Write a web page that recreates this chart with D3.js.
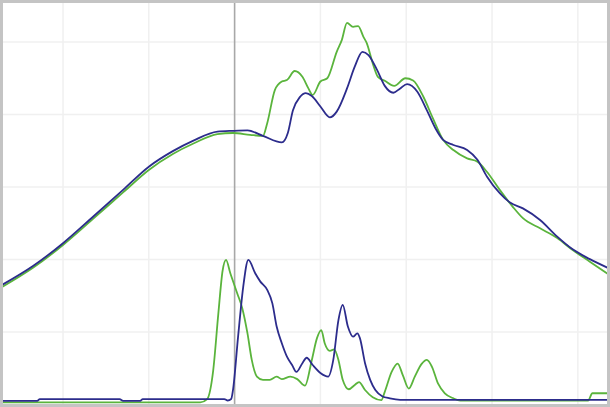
<!DOCTYPE html>
<html><head><meta charset="utf-8">
<script src="https://cdn.jsdelivr.net/npm/d3@7"></script>
<style>body{margin:0;background:#fff}svg{display:block}</style>
</head><body><svg id="c" width="610" height="407"></svg>
<script>
// x values (time units) and y values for each series
const blueUpperX = [2.9,6.5,10.0,13.5,17.0,20.0,22.8,25.2,28.0,29.8,31.5,33.3,35.5,36.2,36.8,37.6,38.3,39.0,40.0,41.1,41.9,43.1,44.0,44.9,45.6,46.6,47.5,48.5,49.3,50.1,51.3,52.4,53.4,54.3,55.5,57.1,58.3,59.4,60.9,62.1,63.6,65.6,67.6,69.4,71.4,73.5];
const blueUpperY = [33.0,38.2,44.5,51.8,59.2,65.6,69.9,72.8,75.3,75.5,75.6,74.1,72.3,74.9,81.2,84.8,85.9,85.1,82.2,79.2,80.8,87.2,93.2,97.3,96.4,92.3,87.9,86.0,87.2,88.4,86.3,81.2,76.2,73.0,71.6,70.2,67.5,62.9,58.3,55.7,54.1,50.9,46.3,42.8,40.1,37.7];
const greenUpperX = [2.9,6.5,10.0,13.5,17.0,20.0,22.8,25.2,28.0,29.8,31.8,33.3,33.8,34.7,35.5,36.1,37.0,37.9,38.6,39.1,40.0,40.8,41.9,42.5,43.1,43.8,44.4,45.0,45.4,46.1,46.7,47.5,48.6,49.9,50.8,52.0,53.1,54.3,55.5,57.1,58.3,59.4,60.9,62.4,63.6,65.6,67.6,69.4,71.4,73.5];
const greenUpperY = [32.4,37.7,44.0,51.2,58.5,64.7,69.1,72.0,74.6,74.9,74.4,74.1,77.6,86.8,89.1,89.5,92.0,90.4,87.2,85.4,89.1,90.0,97.3,100.6,105.3,104.2,104.4,101.5,99.7,94.1,90.4,89.3,87.9,90.0,89.4,84.9,79.0,73.0,70.2,67.9,67.0,64.2,59.2,54.6,51.4,48.6,45.9,42.6,39.4,36.0];
const blueLowerX = [2.7,7.0,7.3,16.6,17.0,19.0,19.3,28.8,29.2,29.6,29.8,30.4,31.0,31.6,32.4,33.0,33.8,34.4,34.9,35.5,36.1,36.7,37.2,37.9,38.4,39.1,40.0,40.9,41.5,42.1,42.6,43.2,43.8,44.3,44.6,45.2,45.8,46.4,47.2,48.1,49.3,73.5];
const blueLowerY = [1.0,1.0,1.5,1.5,1.0,1.0,1.5,1.5,1.1,1.5,3.8,18.6,32.4,39.9,36.2,33.9,31.6,27.9,21.5,16.9,13.2,10.9,9.0,11.4,12.9,10.9,8.7,7.7,12.3,23.3,27.5,21.5,18.7,19.6,18.3,11.4,6.8,4.0,2.3,1.7,1.3,1.3];
const greenLowerX = [2.7,26.0,26.8,27.5,28.1,28.6,29.0,29.5,30.3,30.9,31.5,32.0,32.6,33.3,34.1,34.9,35.5,36.5,37.3,38.2,39.0,39.6,40.1,40.5,41.1,41.6,42.1,42.6,43.3,44.0,44.5,45.2,46.1,47.1,47.5,48.3,49.0,49.6,50.3,51.0,51.8,52.4,53.0,53.7,54.5,55.5,56.3,71.2,71.7,73.5];
const greenLowerY = [0.6,0.6,1.5,9.3,25.0,36.9,39.9,36.2,30.7,26.5,19.6,12.3,7.7,6.8,6.8,7.7,7.0,7.7,7.0,5.2,12.3,18.3,20.5,16.9,14.8,15.2,12.3,6.8,4.2,5.4,6.2,4.0,2.0,1.2,3.5,9.0,11.3,8.1,4.4,7.7,11.2,12.3,10.4,5.8,3.1,1.7,1.1,1.1,3.1,3.1];
const xGrid = [10,20,40,50,60,70];
const yGrid = [20,40,60,80,100];
const markerX = 30;

const W = 610, H = 407;
const svg = d3.select("#c");
const x = d3.scaleLinear().domain([2.657, 73.75]).range([0, W]);
const y = d3.scaleLinear().domain([-0.69, 111.59]).range([H, 0]);

svg.append("rect").attr("width", W).attr("height", H).attr("fill", "#fff");
const g = svg.append("g");
g.selectAll(".vg").data(xGrid).enter().append("line")
  .attr("x1", d => x(d)).attr("x2", d => x(d)).attr("y1", 0).attr("y2", H)
  .attr("stroke", "#f0f0f0").attr("stroke-width", 1.5);
g.selectAll(".hg").data(yGrid).enter().append("line")
  .attr("y1", d => y(d)).attr("y2", d => y(d)).attr("x1", 0).attr("x2", W)
  .attr("stroke", "#f0f0f0").attr("stroke-width", 1.5);
g.append("line").attr("x1", x(markerX)).attr("x2", x(markerX)).attr("y1", 0).attr("y2", H)
  .attr("stroke", "#a8a8a8").attr("stroke-width", 1.6);

const line = d3.line().x(d => x(d[0])).y(d => y(d[1])).curve(d3.curveMonotoneX);
const series = [
  [greenUpperX, greenUpperY, "#5ab43c"],
  [blueUpperX, blueUpperY, "#2c2c8c"],
  [greenLowerX, greenLowerY, "#5ab43c"],
  [blueLowerX, blueLowerY, "#2c2c8c"]
];
series.forEach(([xs, ys, c]) => {
  g.append("path").datum(d3.zip(xs, ys)).attr("d", line)
    .attr("fill", "none").attr("stroke", c).attr("stroke-width", 1.8)
    .attr("stroke-linejoin", "round");
});
svg.append("rect").attr("x", 1.5).attr("y", 1.5).attr("width", W - 3).attr("height", H - 3)
  .attr("fill", "none").attr("stroke", "#c4c4c4").attr("stroke-width", 3);
</script></body></html>
